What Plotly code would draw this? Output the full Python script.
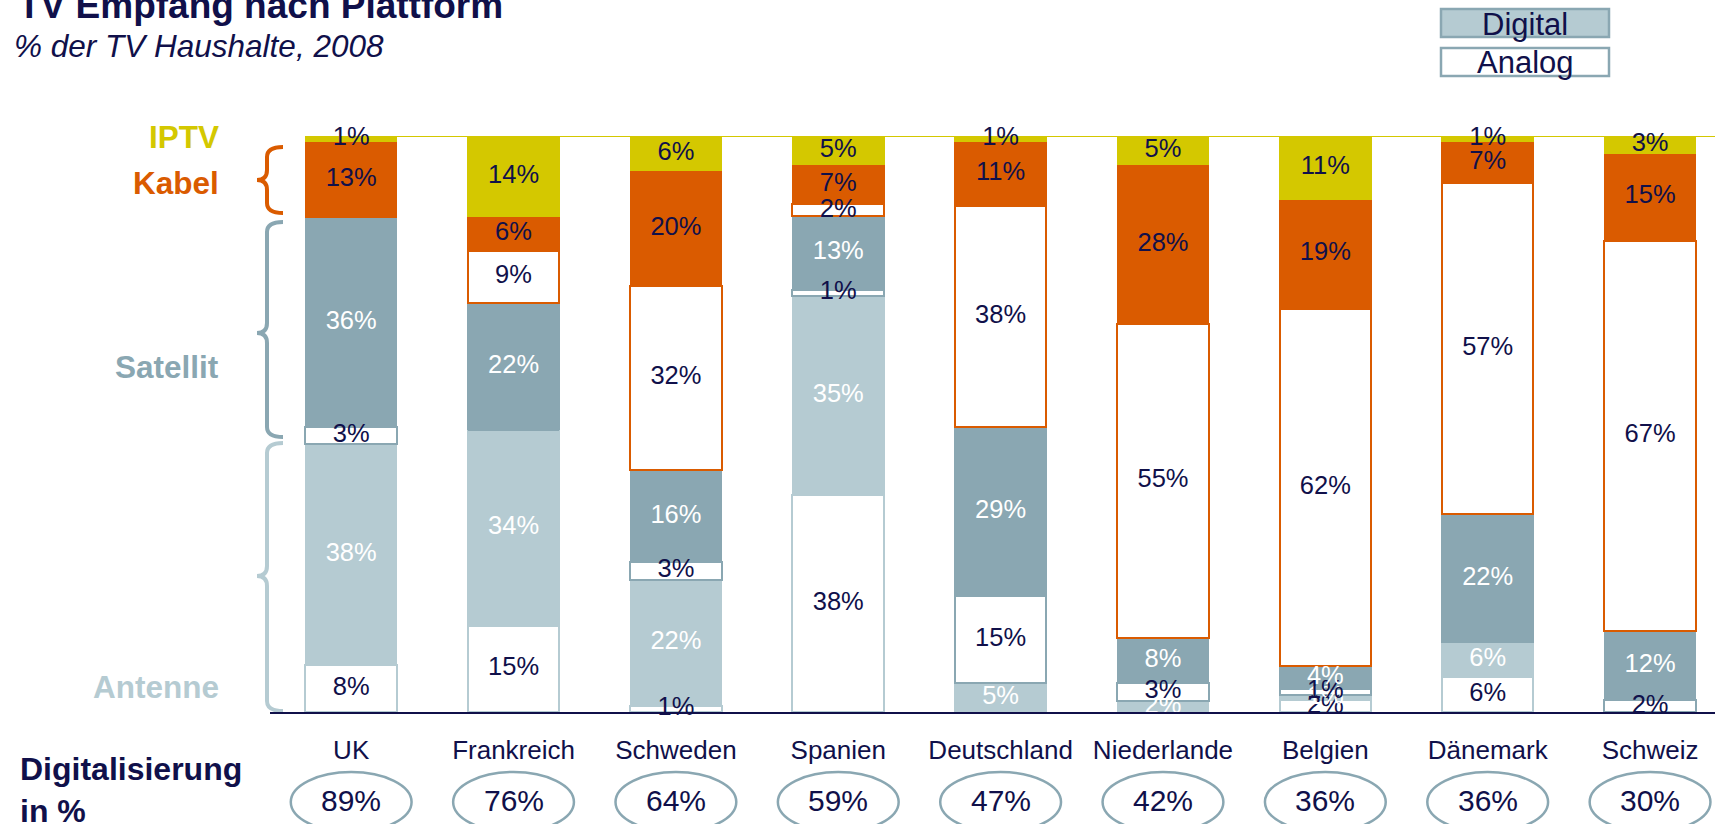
import plotly.graph_objects as go

# ---------------- data ----------------
countries = ["UK", "Frankreich", "Schweden", "Spanien", "Deutschland",
             "Niederlande", "Belgien", "Dänemark", "Schweiz"]
antenne_analog = [8, 15, 1, 38, 0, 0, 2, 6, 0]
antenne_digital = [38, 34, 22, 35, 5, 2, 1, 6, 0]
satellit_analog = [3, 0, 3, 1, 15, 3, 1, 0, 2]
satellit_digital = [36, 22, 16, 13, 29, 8, 4, 22, 12]
kabel_analog = [0, 9, 32, 2, 38, 55, 62, 57, 67]
kabel_digital = [13, 6, 20, 7, 11, 28, 19, 7, 15]
iptv = [1, 14, 6, 5, 1, 5, 11, 1, 3]
digitalisierung = [89, 76, 64, 59, 47, 42, 36, 36, 30]

platform_labels = ["IPTV", "Kabel", "Satellit", "Antenne"]
legend_labels = ["Digital", "Analog"]
title_text = "TV Empfang nach Plattform"
subtitle_text = "% der TV Haushalte, 2008"
dig_label = "Digitalisierung<br>in %"

# ---------------- styles ----------------
NAVY = "#10104A"
YELLOW = "#D4C800"
ORANGE = "#DA5B00"
GRAY = "#8AA7B2"
LIGHT = "#B5CBD2"
WHITE = "#FFFFFF"
FONT = "Liberation Sans, Arial, sans-serif"

W, H = 1715, 824
ML, MR, MT, MB = 270, 0, 136, 112
PW, PH = W - ML - MR, H - MT - MB
BARGAP = 0.436
XR = [-0.5, 8.4]


def px_x(px):
    return (px - ML) / PW


def px_y(py):
    return (H - MB - py) / PH


def px_to_data_y(py):
    return (H - MB - py) / PH * 100


series = [
    # values, fill, line colour, line width, text colour
    (antenne_analog, WHITE, LIGHT, 2, NAVY),
    (antenne_digital, LIGHT, LIGHT, 1, WHITE),
    (satellit_analog, WHITE, GRAY, 2, NAVY),
    (satellit_digital, GRAY, GRAY, 1, WHITE),
    (kabel_analog, WHITE, ORANGE, 2, NAVY),
    (kabel_digital, ORANGE, ORANGE, 1, NAVY),
    (iptv, YELLOW, YELLOW, 1, NAVY),
]

fig = go.Figure()
for vals, fill, lc, lw, tc in series:
    fig.add_trace(go.Bar(
        x=countries, y=vals,
        marker=dict(color=fill, line=dict(color=lc, width=lw)),
        hoverinfo="skip", showlegend=False,
    ))

# label positions (centres of normalised segments)
n = len(countries)
totals = [sum(s[0][i] for s in series) for i in range(n)]
cum = [0.0] * n
for vals, fill, lc, lw, tc in series:
    ys, txt = [], []
    for i in range(n):
        v = vals[i]
        ys.append((cum[i] + v / 2) / totals[i] * 100)
        txt.append(f"{v}%" if v > 0 else "")
        cum[i] += v
    fig.add_trace(go.Scatter(
        x=countries, y=ys, mode="text", text=txt,
        textposition="middle center",
        textfont=dict(size=25.5, color=tc, family=FONT),
        cliponaxis=False, hoverinfo="skip", showlegend=False,
    ))

shapes = []
annotations = []

# yellow top line
half = (1 - BARGAP) / 2
shapes.append(dict(type="line", xref="x", yref="y", x0=-half, x1=XR[1],
                   y0=100, y1=100, line=dict(color=YELLOW, width=2),
                   layer="below"))

# braces
def brace(y_top, y_mid, y_bot, color):
    xr, xs, xt = px_x(283), px_x(267), px_x(257)
    c = 10 / PH * 100
    p = (f"M {xr},{y_top} Q {xs},{y_top} {xs},{y_top - c} "
         f"L {xs},{y_mid + c} Q {xs},{y_mid} {xt},{y_mid} "
         f"Q {xs},{y_mid} {xs},{y_mid - c} "
         f"L {xs},{y_bot + c} Q {xs},{y_bot} {xr},{y_bot}")
    return dict(type="path", xref="paper", yref="y", path=p,
                line=dict(color=color, width=4))

shapes.append(brace(px_to_data_y(147), px_to_data_y(180), px_to_data_y(213), ORANGE))
shapes.append(brace(px_to_data_y(222), px_to_data_y(333), px_to_data_y(437), GRAY))
shapes.append(brace(px_to_data_y(443), px_to_data_y(576), px_to_data_y(711), LIGHT))

# platform labels
plat_colors = [YELLOW, ORANGE, GRAY, LIGHT]
plat_py = [137, 183, 367, 687]
for lab, col, py in zip(platform_labels, plat_colors, plat_py):
    annotations.append(dict(text=f"<b>{lab}</b>", xref="paper", yref="y",
                            x=px_x(221), y=px_to_data_y(py), xanchor="right",
                            yanchor="middle", showarrow=False,
                            font=dict(size=31.5, color=col, family=FONT)))

# digitalisation ellipses
for i, d in enumerate(digitalisierung):
    shapes.append(dict(type="circle", xref="x", yref="paper",
                       x0=i - 0.372, x1=i + 0.372,
                       y0=px_y(772), y1=px_y(832),
                       line=dict(color=GRAY, width=2.5)))
    annotations.append(dict(text=f"{d}%", xref="x", yref="paper", x=i,
                            y=px_y(800), xanchor="center", yanchor="middle",
                            showarrow=False,
                            font=dict(size=30, color=NAVY, family=FONT)))

annotations.append(dict(text=f"<b>{dig_label}</b>", xref="paper", yref="paper",
                        x=px_x(18), y=px_y(790), xanchor="left",
                        yanchor="middle", align="left", showarrow=False,
                        font=dict(size=32, color=NAVY, family=FONT)))

# title / subtitle
annotations.append(dict(text=f"<b>{title_text}</b>", xref="paper", yref="paper",
                        x=px_x(16), y=px_y(5), xanchor="left", yanchor="middle",
                        showarrow=False,
                        font=dict(size=37, color=NAVY, family=FONT)))
annotations.append(dict(text=f"<i>{subtitle_text}</i>", xref="paper",
                        yref="paper", x=px_x(12), y=px_y(46), xanchor="left",
                        yanchor="middle", showarrow=False,
                        font=dict(size=31.5, color=NAVY, family=FONT)))

# legend boxes
leg_fill = [LIGHT, WHITE]
leg_py = [(9, 37), (48, 76)]
for lab, fc, (t, b) in zip(legend_labels, leg_fill, leg_py):
    shapes.append(dict(type="rect", xref="paper", yref="paper",
                       x0=px_x(1441), x1=px_x(1609), y0=px_y(t), y1=px_y(b),
                       fillcolor=fc, line=dict(color=GRAY, width=2.5)))
    annotations.append(dict(text=lab, xref="paper", yref="paper",
                            x=px_x(1525), y=px_y((t + b) / 2 + 1),
                            xanchor="center", yanchor="middle",
                            showarrow=False,
                            font=dict(size=31, color=NAVY, family=FONT)))

fig.update_layout(
    width=W, height=H,
    margin=dict(l=ML, r=MR, t=MT, b=MB, pad=0),
    barmode="stack", barnorm="percent", bargap=BARGAP,
    paper_bgcolor=WHITE, plot_bgcolor=WHITE,
    showlegend=False,
    font=dict(family=FONT, color=NAVY),
    shapes=shapes, annotations=annotations,
    xaxis=dict(type="category", range=XR, showgrid=False, zeroline=False,
               showline=True, linecolor=NAVY, linewidth=2,
               ticks="outside", ticklen=14, tickcolor="rgba(0,0,0,0)",
               tickfont=dict(size=26, color=NAVY, family=FONT),
               fixedrange=True),
    yaxis=dict(range=[0, 100], visible=False, showgrid=False,
               zeroline=False, fixedrange=True),
)

fig.write_html("out.html",
               config={"displayModeBar": False, "staticPlot": True},
               post_script="document.body.style.margin='0px';"
                           "document.body.style.overflow='hidden';")
